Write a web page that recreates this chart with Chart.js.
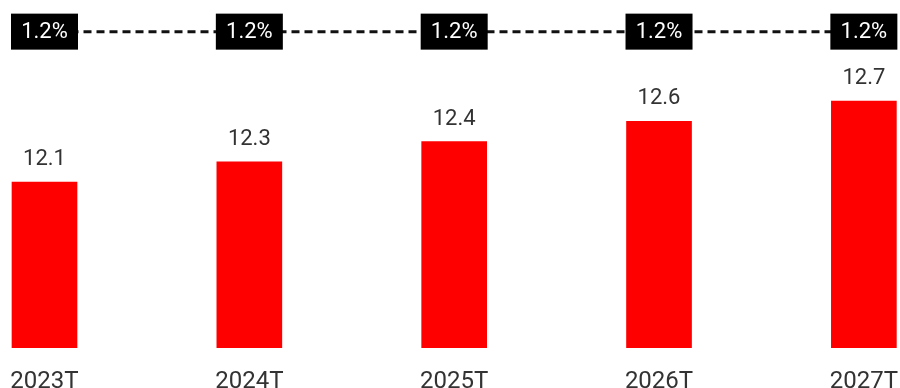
<!DOCTYPE html>
<html>
<head>
<meta charset="utf-8">
<script src="https://cdn.jsdelivr.net/npm/chart.js@4"></script>
<style>
  html, body { margin: 0; padding: 0; background: #fff; }
  #wrap { width: 900px; height: 388px; }
</style>
</head>
<body>
<div id="wrap"><canvas id="myChart"></canvas></div>
<script>
const years = ['2023T', '2024T', '2025T', '2026T', '2027T'];
const volumes = [12.1, 12.25, 12.4, 12.55, 12.7];
const growth = [1.2, 1.2, 1.2, 1.2, 1.2];

// value labels over the bars + black growth boxes
const labelsPlugin = {
    id: 'labels',
    afterDatasetsDraw(chart) {
        const c = chart.ctx;
        c.save();
        c.font = '22px Roboto';
        c.fillStyle = '#333';
        c.textAlign = 'center';
        c.textBaseline = 'alphabetic';
        chart.getDatasetMeta(0).data.forEach(function(bar, i) {
            c.fillText(volumes[i].toFixed(1), bar.x, bar.y - 17);
        });
        c.textBaseline = 'middle';
        chart.getDatasetMeta(1).data.forEach(function(pt, i) {
            c.fillStyle = '#000';
            c.fillRect(pt.x - 33.5, pt.y - 18, 67, 36);
            c.fillStyle = '#fff';
            c.fillText(growth[i].toFixed(1) + '%', pt.x, pt.y + 1);
        });
        c.restore();
    }
};

const ctx = document.getElementById('myChart');
new Chart(ctx, {
    data: {
        labels: years,
        datasets: [{
            type: 'bar',
            data: volumes,
            backgroundColor: '#fe0000',
            barThickness: 65,
            clip: { left: 40, right: 40, top: 0, bottom: 0 },
            yAxisID: 'y',
            order: 2
        }, {
            type: 'line',
            data: growth,
            borderColor: '#111',
            borderWidth: 3,
            borderDash: [8, 5],
            pointRadius: 0,
            clip: false,
            yAxisID: 'y2',
            order: 1
        }]
    },
    options: {
        responsive: true,
        maintainAspectRatio: false,
        animation: false,
        layout: { padding: { left: 44.5, right: 33, top: 0, bottom: 0 } },
        plugins: { legend: false, tooltip: { enabled: false } },
        scales: {
            x: {
                offset: false,
                grid: { display: false, drawTicks: false },
                border: { display: false },
                ticks: {
                    color: '#333',
                    font: { family: 'Roboto', size: 24, lineHeight: 2.667 },
                    padding: 2,
                    maxRotation: 0,
                    autoSkip: false
                },
                afterFit: function(axis) { axis.height = 40; }
            },
            y: { display: false, min: 10.87, max: 13.45 },
            y2: { display: false, min: 0, max: 1.32 }
        }
    },
    plugins: [labelsPlugin]
});
</script>
</body>
</html>
